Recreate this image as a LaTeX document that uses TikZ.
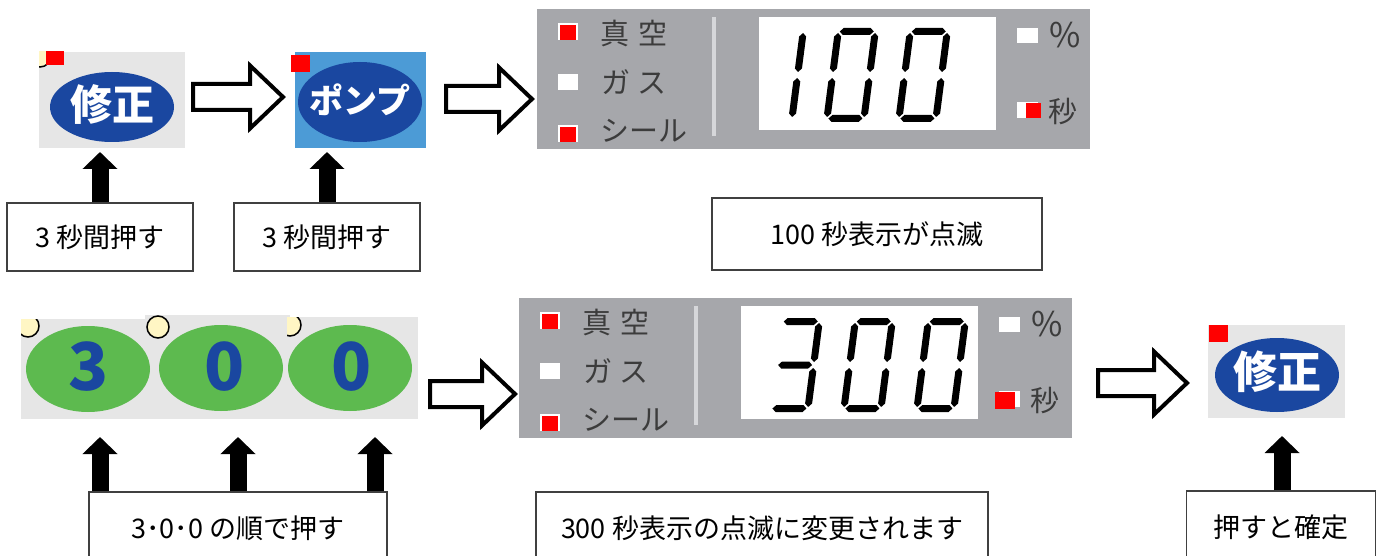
\documentclass[tikz,border=0pt]{standalone}
\usepackage{fontspec}
\newfontfamily\jp{Noto Sans CJK JP}
\usetikzlibrary{arrows.meta}

\definecolor{panelgrey}{HTML}{A6A7AB}
\definecolor{dividergrey}{HTML}{D6D7DA}
\definecolor{btnblue}{HTML}{1A47A0}
\definecolor{skyblue}{HTML}{4C9BD6}
\definecolor{keygreen}{HTML}{5DBA4F}
\definecolor{keybg}{HTML}{E6E6E6}
\definecolor{lampyellow}{HTML}{FFF6C4}
\definecolor{labelgrey}{HTML}{3C3C3C}

% segments of a seven segment digit (local units, y up)
\newcommand{\hseg}[3]{\fill (#1,#3) -- ({#1+3.5},{#3+3.5}) -- ({#2-3.5},{#3+3.5}) -- (#2,#3) -- ({#2-3.5},{#3-3.5}) -- ({#1+3.5},{#3-3.5}) -- cycle;}
\newcommand{\vseg}[3]{\fill (#1,#2) -- ({#1+3.5},{#2+3.5}) -- ({#1+3.5},{#3-3.5}) -- (#1,#3) -- ({#1-3.5},{#3-3.5}) -- ({#1-3.5},{#2+3.5}) -- cycle;}
\newcommand{\sega}{\hseg{5}{39}{90.5}}
\newcommand{\segb}{\vseg{40.5}{50}{89}}
\newcommand{\segc}{\vseg{40.5}{5}{44}}
\newcommand{\segd}{\hseg{5}{39}{3.5}}
\newcommand{\sege}{\vseg{3.5}{5}{44}}
\newcommand{\segf}{\vseg{3.5}{50}{89}}
\newcommand{\segg}{\hseg{5}{39}{47}}
\newcommand{\segdigit}[3]{%
  \begin{scope}[shift={(#1,#2)}, yscale=-1, xslant=-0.13]
    \foreach \s in {#3} {\csname seg\s\endcsname}
  \end{scope}}

% hollow arrow: left x, tip x, middle y
\newcommand{\hollowarrow}[3]{%
  \draw[line width=4pt, fill=white, miter limit=10] (#1,{#3-13}) -- ({#2-33},{#3-13}) -- ({#2-33},{#3-31.5}) -- (#2,#3) -- ({#2-33},{#3+31.5}) -- ({#2-33},{#3+13}) -- (#1,{#3+13}) -- cycle;}

% display panel with lamps: x, y, name prefix
\newcommand{\ctrlpanel}[3]{%
  \begin{scope}[shift={(#1,#2)}]
    \fill[panelgrey] (0,0) rectangle (553,140);
    \fill[dividergrey] (175,8) rectangle (179,127);
    \fill[white] (222,8) rectangle (459,121);
    % lamps
    \fill[white] (21,14) rectangle (41,31);
    \fill[red] (23,16) rectangle (39,31);
    \fill[white] (21,65) rectangle (41,81);
    \fill[white] (21,116) rectangle (41,133);
    \fill[red] (23,118) rectangle (39,133);
    \fill[white] (480,19) rectangle (501,34);
    \fill[white] (480,93) rectangle (501,109);
    % texts
    \node[lamptext] (#3vac) at (63,24) {真\hspace{9pt}空};
    \node[lamptext] (#3gas) at (64,73) {ガ\hspace{7pt}ス};
    \node[lamptext] (#3seal) at (63,122) {シール};
    \node[lamptext, font=\jp\fontsize{34}{38}\selectfont] (#3pct) at (512,26) {\%};
    \node[lamptext] (#3sec) at (511,102) {秒};
  \end{scope}}

\begin{document}
\begin{tikzpicture}[x=1pt, y=-1pt,
  labelbox/.style={draw=black!75, line width=1.2pt, inner sep=0pt, font=\jp\fontsize{27}{32}\selectfont},
  pusharrow/.style={line width=17pt, -{Triangle[width=34pt,length=17pt]}},
  lamptext/.style={anchor=west, text=labelgrey, inner sep=0pt, font=\jp\fontsize{29}{33}\selectfont},
  btntext/.style={text=white, inner sep=0pt, font=\jp\bfseries\fontsize{42}{46}\selectfont},
  keytext/.style={text=btnblue, inner sep=0pt, font=\jp\bfseries\fontsize{66}{70}\selectfont},
  lamp/.style={fill=lampyellow, draw=black, line width=1.5pt}]

  \useasboundingbox (0,0) rectangle (1384,556);
  \clip (0,0) rectangle (1384,556);

  % Correction button (top)
  \fill[keybg] (39,52) rectangle (185,148);
  \begin{scope}
    \clip (39,52) rectangle (185,148);
    \filldraw[lamp] (40,56) circle (11);
  \end{scope}
  \fill[btnblue] (112,107) ellipse (62 and 35);
  \node[btntext] (fix1) at (112,104) {修正};
  \fill[red] (46,51) rectangle (64,65);

  % Pump button
  \fill[skyblue] (295,52) rectangle (426,148);
  \fill[btnblue] (360,102) ellipse (62 and 40);
  \node[btntext, font=\jp\bfseries\fontsize{34}{38}\selectfont] (pump) at (360,100) {ポンプ};
  \fill[red] (291,55) rectangle (310,72);

  % Display 100
  \ctrlpanel{537}{9}{top}
  \fill[red] (1026,103) rectangle (1041,118);
  \segdigit{751}{122}{b,c}
  \segdigit{823}{122}{a,b,c,d,e,f}
  \segdigit{895}{122}{a,b,c,d,e,f}

  % Hollow arrows
  \hollowarrow{193}{283}{97}
  \hollowarrow{446}{532}{99}
  \hollowarrow{430}{515}{394}
  \hollowarrow{1098}{1187}{383}

  % Labels (top)
  \node[labelbox, minimum width=186pt, minimum height=68pt] (press1) at (100,237) {3 秒間押す};
  \node[labelbox, minimum width=186pt, minimum height=68pt] (press2) at (327,237) {3 秒間押す};
  \node[labelbox, minimum width=330pt, minimum height=72pt] (blink) at (877,234) {100 秒表示が点滅};

  \coordinate (tip1) at (100,152);
  \coordinate (tip2) at (327,152);
  \draw[pusharrow] (press1.north -| tip1) -- (tip1);
  \draw[pusharrow] (press2.north -| tip2) -- (tip2);

  % Number keys
  \fill[keybg] (21,319) rectangle (150,419);
  \begin{scope}
    \clip (21,319) rectangle (150,419);
    \filldraw[lamp] (28,326) circle (11);
  \end{scope}
  \fill[keybg] (145,315) rectangle (290,419);
  \begin{scope}
    \clip (145,315) rectangle (290,419);
    \filldraw[lamp] (158,327) circle (11);
  \end{scope}
  \fill[keybg] (287,317) rectangle (418,419);
  \begin{scope}
    \clip (287,317) rectangle (418,419);
    \filldraw[lamp] (290,325) circle (11);
  \end{scope}
  \fill[keygreen] (88,369) ellipse (62 and 43);
  \fill[keygreen] (221,368) ellipse (62 and 43);
  \fill[keygreen] (350,368) ellipse (62 and 43);
  \node[keytext] (key3) at (89,367) {3};
  \node[keytext] (key0a) at (225,367) {0};
  \node[keytext] (key0b) at (352,367) {0};

  % Display 300
  \ctrlpanel{519}{298}{bot}
  \fill[red] (995,392) rectangle (1015,409);
  \segdigit{767}{412}{a,b,c,d,g}
  \segdigit{840}{412}{a,b,c,d,e,f}
  \segdigit{913}{412}{a,b,c,d,e,f}

  % Correction button (bottom)
  \fill[keybg] (1208,325) rectangle (1345,418);
  \fill[btnblue] (1277,375) ellipse (62 and 37);
  \node[btntext, font=\jp\bfseries\fontsize{44}{48}\selectfont] (fix2) at (1277,372) {修正};
  \fill[red] (1209,325) rectangle (1228,342);

  % Labels (bottom)
  \node[labelbox, minimum width=298pt, minimum height=72pt] (order) at (238,528) {3･0･0 の順で押す};
  \node[labelbox, minimum width=452pt, minimum height=72pt] (change) at (762,528) {300 秒表示の点滅に変更されます};
  \node[labelbox, minimum width=189pt, minimum height=72pt] (confirm) at (1281,527) {押すと確定};

  \coordinate (tip3) at (100,437);
  \coordinate (tip4) at (238,437);
  \coordinate (tip5) at (375,437);
  \coordinate (tip6) at (1282,436);
  \draw[pusharrow] (order.north -| tip3) -- (tip3);
  \draw[pusharrow] (order.north -| tip4) -- (tip4);
  \draw[pusharrow] (order.north -| tip5) -- (tip5);
  \draw[pusharrow] (confirm.north -| tip6) -- (tip6);

\end{tikzpicture}
\end{document}
